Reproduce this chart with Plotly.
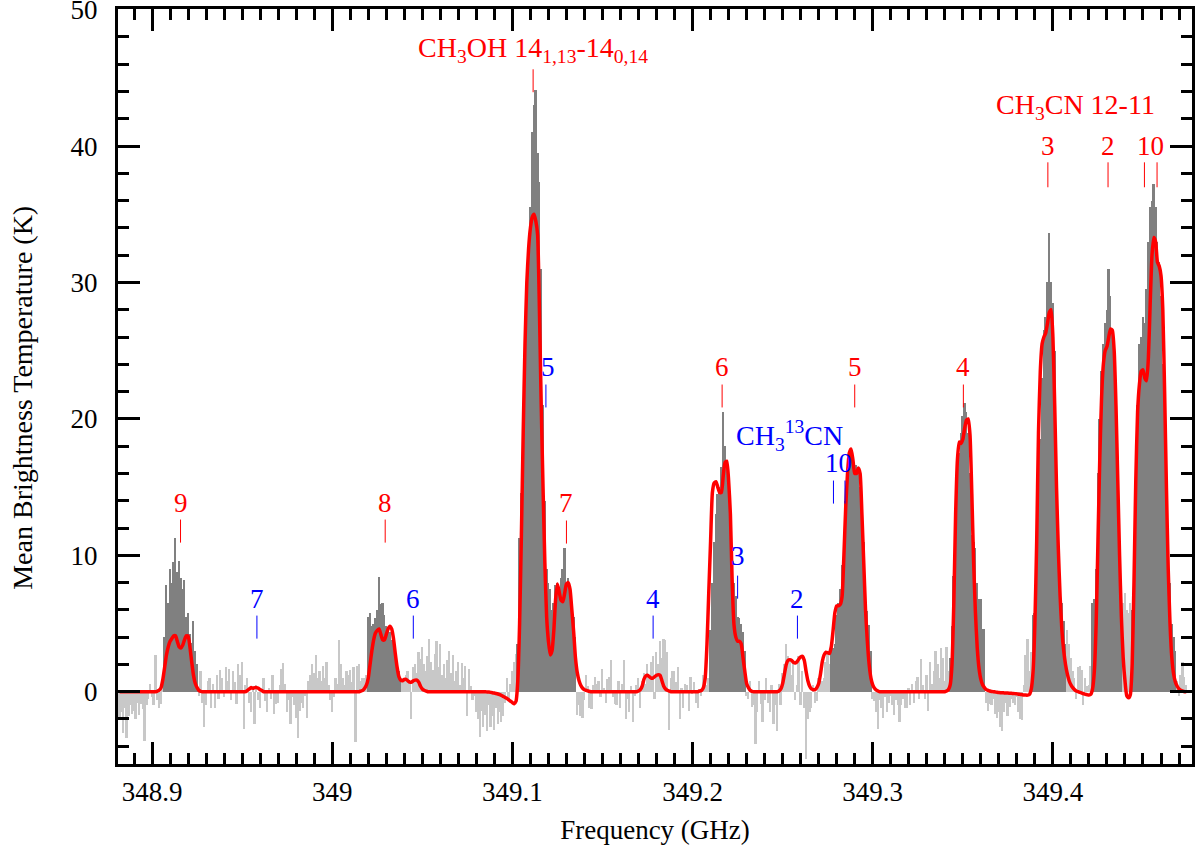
import numpy as np
import plotly.graph_objects as go

# ---------------- data ----------------
CHANNEL_GHZ = 0.001

# observed mean brightness temperature (K), in contiguous channel segments
tb_starts = [348.882, 348.907, 348.926, 349.020, 349.039, 349.103, 349.136,
             349.210, 349.230, 349.277, 349.300, 349.343, 349.363, 349.389,
             349.408, 349.422, 349.439, 349.444, 349.469]
# True = channel belongs to a fitted line (dark grey), False = noise (light grey)
tb_is_line = [False, True, False, True, False, True, False, True, False, True,
              False, True, False, True, False, True, False, True, False]

tb_noise_a = [-2.0, -1.5, -3.0, -1.2, -3.4, -1.8, -1.0, -1.6, -1.4, -2.0,
              -0.8, -1.7, -0.9, -1.3, -3.6, -1.0, -0.5, 0.6, -0.4, -1.0,
              2.7, -0.6, -1.2, -0.9, 0.5]
tb_k9 = [4.0, 7.8, 6.5, 9.0, 8.0, 9.5, 11.3, 8.8, 9.6, 8.3,
         7.5, 8.2, 5.5, 5.8, 4.2, 3.6, 5.2, 3.0, 2.0]
tb_noise_b = [-0.3, 1.5, -0.8, -2.6, -1.0, 0.8, 1.0, -1.2, 0.6, -1.2,
              1.2, -0.5, 1.6, 1.0, -0.4, 1.8, 0.8, 1.7, -0.6, 1.5,
              0.7, -0.9, 2.0, 1.2, 2.2, -2.7, 0.5, 1.0, -0.8, -1.5,
              0.4, -2.4, 0.5, -0.6, -1.2, 0.3, 1.0, -0.7, -1.5, 0.3,
              -0.5, 1.2, -1.6, -0.9, -0.8, 0.5, 1.7, 2.1, 0.6, -1.5,
              -0.6, -2.4, -0.4, -1.0, -1.9, -3.4, -1.4, -0.8, -1.2, -0.3,
              -1.9, 0.8, 1.2, 2.0, 1.4, 2.7, 1.0, 1.5, 0.8, 1.9,
              1.0, 2.2, 0.5, -0.6, -1.5, -0.4, 1.0, 0.6, 3.8, 2.0,
              1.0, 0.5, 1.5, 1.2, 1.6, 0.7, 1.8, -3.7, 1.9, 2.0,
              0.8, 1.0, 1.0, 1.2]
tb_k8 = [5.5, 5.8, 4.8, 5.0, 5.4, 6.0, 8.4, 6.4, 6.5, 5.6,
         4.8, 4.6, 4.4, 3.8, 3.4, 2.6, 2.2, 1.5, 1.0]
tb_noise_c = [1.0, 0.8, 1.2, 1.5, 0.6, -2.0, 1.8, 2.0, 1.4, 2.9,
              2.4, 3.3, 2.0, 1.5, 2.6, 3.9, 2.2, 1.6, 2.8, 3.7,
              1.8, 3.5, 1.2, 2.0, 1.0, 2.3, 3.0, 1.4, 2.7, 0.8,
              1.5, 2.2, 0.5, 2.1, 1.0, 1.9, -1.8, 1.7, 0.4, -0.6,
              -0.3, -1.5, -2.0, -3.3, -1.4, -2.6, -1.7, -2.9, -1.0, -2.6,
              -1.8, -2.8, -1.2, -2.4, -1.5, -2.2, -1.8, -0.8, 1.0, -0.5,
              0.6, 1.5, 2.2, 2.8]
tb_ch3oh = [3.5, 11.3, 14.6, 20.9, 25.0, 28.4, 32.0, 35.5, 41.0, 43.0,
            44.1, 39.5, 37.4, 31.0, 21.0, 14.0, 9.0, 8.0, 7.5, 6.0,
            6.5, 7.8, 8.0, 7.5, 8.3, 9.0, 10.5, 8.0, 8.3, 7.5,
            6.5, 5.5, 4.0]
tb_noise_d = [-1.7, -1.0, -1.8, -1.9, -0.6, 1.2, 0.4, -1.2, -1.3, 0.5,
              1.1, 0.6, 0.8, -0.4, 1.7, 0.3, -0.8, 0.9, 1.1, 2.3,
              -0.4, -0.9, -1.0, 0.8, -1.2, 0.6, 2.3, -2.0, -0.5, -1.5,
              0.4, -2.2, -0.3, 0.5, 1.0, -1.2, 0.8, 1.4, 0.6, 2.0,
              1.1, 2.2, 2.6, -0.5, 2.9, 2.0, 3.7, 2.5, 3.9, 3.8,
              2.9, -2.8, 1.0, 1.5, 1.5, 0.7, 1.8, -2.0, 0.3, -1.2,
              0.6, 0.5, -1.4, 1.1, -0.2, 0.7, -0.8, -1.2, 0.2, -0.3,
              1.2, 0.6, 0.5, 1.0]
tb_k6 = [4.5, 8.0, 11.0, 13.0, 14.5, 15.0, 16.5, 20.5, 18.0, 17.0,
         14.5, 12.0, 10.5, 8.0, 7.0, 5.5, 5.4, 5.0, 4.4, 3.0]
tb_noise_e = [-0.3, -0.5, 0.8, -1.1, -1.0, -3.8, -1.5, 0.8, -0.9, -2.2,
              -0.6, 1.0, -0.8, -1.5, 0.5, -2.4, -1.0, -2.9, 0.6, -1.0,
              1.4, 2.0, 3.5, 2.6, 2.4, 1.2, 2.2, -0.6, 0.5, 2.6,
              -1.0, 1.5, -1.2, -4.9, -2.0, -1.5, -1.2, 0.5, -0.8, -0.7,
              1.0, 1.5, 0.8, 1.0, 2.2, 2.9, 2.0]
tb_k5 = [3.0, 3.2, 3.5, 5.6, 6.5, 7.5, 9.3, 11.0, 14.0, 15.6,
         17.3, 17.6, 17.2, 16.6, 16.6, 16.5, 15.0, 14.2, 11.0, 8.0,
         5.9, 4.9, 3.0]
tb_noise_f = [-0.5, -0.7, -1.5, -2.7, -0.6, -1.2, -1.9, -0.4, -1.5, -0.8,
              -0.3, -1.0, -1.7, -0.6, -1.0, -2.2, -1.0, -0.5, -1.2, -1.2,
              0.3, -1.0, 0.6, -0.8, 0.8, 1.1, -0.5, 2.4, 0.5, -0.5,
              1.2, -1.4, 2.2, 0.6, 1.5, 3.0, 2.0, 1.0, 3.2, 2.5,
              0.8, 3.3, 1.5]
tb_k4 = [2.5, 4.8, 8.5, 13.5, 16.0, 17.5, 19.0, 20.2, 21.2, 20.5,
         19.0, 16.0, 11.5, 11.0, 10.5, 8.0, 6.8, 6.8, 4.6, 4.6]
tb_noise_g = [-0.8, -1.4, -0.9, -1.0, -0.5, -1.6, -1.9, -1.5, -2.6, -2.9,
              -1.5, -0.8, -1.8, -1.1, -0.5, -0.8, -1.0, -0.4, -1.5, -2.0,
              -2.1, 0.5, 2.7, 3.9, 1.5, 2.9]
tb_k3 = [5.6, 5.8, 9.5, 14.0, 18.5, 23.0, 26.5, 27.5, 30.0, 33.6,
         30.0, 28.5, 25.0, 19.0, 12.0, 8.5, 6.5, 5.2, 3.5]
tb_noise_h = [4.5, 3.5, 2.5, 1.5, 1.0, -0.5, 1.8, 1.9, 1.6, -1.0,
              1.0, 0.4, 0.5, 1.9]
tb_k2 = [6.5, 6.8, 9.0, 16.0, 20.0, 23.5, 25.5, 27.0, 28.0, 31.0,
         29.0, 26.5, 24.0, 21.0, 17.0, 11.0, 7.0]
tb_noise_i = [6.5, 7.2, 6.0, 5.8, 6.5]
tb_k10 = [6.0, 6.5, 12.0, 21.0, 25.5, 26.0, 27.5, 27.0, 29.5, 33.0,
          35.5, 36.0, 37.2, 35.5, 33.0, 31.5, 29.0, 24.0, 18.0, 13.5,
          9.5, 8.0, 5.0, 4.0, 3.0]
tb_noise_j = [0.8, -0.3, 1.2, 2.2, 1.1, 0.5]

tb_segments = [tb_noise_a, tb_k9, tb_noise_b, tb_k8, tb_noise_c, tb_ch3oh,
               tb_noise_d, tb_k6, tb_noise_e, tb_k5, tb_noise_f, tb_k4,
               tb_noise_g, tb_k3, tb_noise_h, tb_k2, tb_noise_i, tb_k10,
               tb_noise_j]

# model spectrum (K); zero outside the listed stretches
model_grid_start = 348.882
model_grid_stop = 349.474
model_starts = [348.903, 348.953, 349.016, 349.086, 349.170, 349.204,
                349.248, 349.341]
model_k9 = [0.05, 0.12, 0.3, 0.9, 1.8, 2.7, 3.3, 3.7, 3.9, 4.1,
            4.1, 3.7, 3.3, 3.2, 3.4, 3.8, 4.1, 4.1, 3.3, 2.2,
            1.2, 0.6, 0.3, 0.1, 0.03]
model_b7 = [0.1, 0.2, 0.3, 0.25, 0.3, 0.3, 0.25, 0.15, 0.08]
model_k8 = [0.05, 0.1, 0.25, 0.5, 1.0, 2.0, 3.0, 3.8, 4.3, 4.5,
            4.6, 4.2, 3.8, 3.8, 4.2, 4.6, 4.8, 4.6, 3.9, 2.8,
            1.8, 1.1, 0.85, 0.8, 0.9, 0.9, 0.8, 0.7, 0.7, 0.8,
            0.85, 0.85, 0.7, 0.4, 0.2, 0.1, 0.05]
model_ch3oh = [-0.02, -0.03, -0.05, -0.07, -0.1, -0.13, -0.17, -0.22, -0.28, -0.35,
               -0.42, -0.5, -0.6, -0.7, -0.8, -0.88, -0.7, 0.8, 5.0, 11.5,
               19.0, 25.5, 30.0, 32.5, 34.0, 34.8, 35.0, 34.5, 33.5, 28.0,
               21.0, 15.0, 9.5, 5.5, 3.7, 2.7, 3.0, 4.5, 6.8, 7.9,
               7.3, 6.7, 6.6, 7.2, 7.9, 8.0, 7.5, 6.0, 4.4, 2.5,
               1.4, 0.8, 0.45, 0.25, 0.15, 0.1, 0.05, 0.02]
model_b4 = [0.05, 0.15, 0.4, 0.9, 1.15, 1.2, 1.1, 1.0, 1.0, 1.1,
            1.2, 1.25, 1.2, 0.8, 0.4, 0.2, 0.1, 0.05]
model_k6 = [0.05, 0.1, 0.3, 1.0, 3.5, 7.3, 11.0, 14.6, 15.3, 15.4,
            15.0, 14.6, 14.6, 15.8, 16.8, 16.9, 15.5, 13.0, 8.0, 4.9,
            4.0, 3.7, 3.7, 3.5, 2.5, 1.5, 0.6, 0.3, 0.1, 0.03]
model_b2_k5 = [0.05, 0.2, 0.6, 1.3, 2.0, 2.3, 2.35, 2.3, 2.15, 2.1,
               2.2, 2.4, 2.55, 2.6, 2.3, 1.5, 0.8, 0.4, 0.2, 0.15,
               0.15, 0.3, 0.6, 1.3, 2.2, 2.7, 2.9, 2.85, 2.8, 3.3,
               4.5, 5.8, 6.3, 6.3, 6.4, 7.0, 10.0, 13.5, 16.0, 17.5,
               17.8, 17.0, 16.0, 16.0, 16.4, 16.0, 13.0, 9.5, 6.0, 3.7,
               2.0, 1.0, 0.5, 0.25, 0.12, 0.05]
model_k4_to_k0 = [0.05, 0.15, 0.5, 2.0, 6.5, 13.0, 17.0, 18.3, 18.2, 18.5,
                  19.3, 19.9, 20.0, 18.8, 14.5, 9.5, 5.8, 3.2, 1.7, 0.9,
                  0.5, 0.3, 0.15, 0.1, 0.05, 0.02, 0.0, -0.02, -0.04, -0.06,
                  -0.07, -0.08, -0.09, -0.1, -0.1, -0.11, -0.12, -0.13, -0.14, -0.16,
                  -0.18, -0.2, -0.22, -0.24, -0.25, -0.25, -0.2, 0.2, 1.5, 5.0,
                  11.0, 19.0, 23.5, 25.5, 26.0, 26.3, 27.0, 27.8, 28.0, 26.0,
                  21.0, 15.0, 10.5, 7.0, 4.5, 3.0, 2.0, 1.3, 0.8, 0.5,
                  0.3, 0.15, 0.05, 0.0, -0.05, -0.1, -0.15, -0.2, -0.22, -0.25,
                  -0.2, 0.2, 1.5, 5.0, 11.0, 17.0, 21.5, 24.0, 25.0, 25.3,
                  26.0, 26.6, 26.5, 25.0, 21.0, 15.5, 10.0, 5.5, 2.5, 0.8,
                  -0.3, -0.45, -0.2, 2.0, 8.0, 15.5, 20.5, 22.5, 23.5, 23.6,
                  23.0, 22.8, 24.5, 28.5, 32.0, 33.3, 33.0, 31.5, 31.2, 30.5,
                  28.0, 22.0, 15.0, 9.0, 5.0, 2.5, 1.3, 0.7, 0.4, 0.2,
                  0.1, 0.05, 0.0, 0.0]
model_segments = [model_k9, model_b7, model_k8, model_ch3oh, model_b4,
                  model_k6, model_b2_k5, model_k4_to_k0]

# line identifications: text, frequency (GHz), text height (K), tick bottom/top (K)
red_labels = ["9", "8", "7", "6", "5", "4", "3", "2", "10"]
red_label_freq = [348.9158, 349.0294, 349.1300, 349.2164, 349.2900, 349.3503,
                  349.3972, 349.4306, 349.4544]
red_label_y = [13.87, 13.87, 13.87, 23.84, 23.84, 23.84, 40.0, 40.0, 40.0]
red_tick_freq = [348.9158, 349.0294, 349.1300, 349.2164, 349.2900, 349.3503,
                 349.3972, 349.4306, 349.4508, 349.4578, 349.1115]
red_tick_y0 = [10.93, 10.93, 10.86, 20.84, 20.84, 20.84, 36.98, 36.98, 36.98, 36.98, 43.95]
red_tick_y1 = [12.62, 12.62, 12.55, 22.52, 22.52, 22.52, 38.81, 38.81, 38.81, 38.81, 45.63]

blue_labels = ["7", "6", "5", "4", "3", "2", "10"]
blue_label_freq = [348.9582, 349.0450, 349.1200, 349.1781, 349.2250, 349.2582, 349.2811]
blue_label_y = [6.82, 6.82, 23.84, 6.82, 9.98, 6.82, 16.8]
blue_tick_freq = [348.9582, 349.0450, 349.1186, 349.1781, 349.2250, 349.2582,
                  349.2782, 349.2846]
blue_tick_y0 = [3.89, 3.89, 20.84, 3.89, 6.82, 3.89, 13.79, 13.79]
blue_tick_y1 = [5.58, 5.58, 22.52, 5.58, 8.51, 5.58, 15.48, 15.48]

species_text = ["CH<sub>3</sub>OH 14<sub>1,13</sub>-14<sub>0,14</sub>",
                "CH<sub>3</sub>CN 12-11", "CH<sub>3</sub><sup>13</sup>CN"]
species_freq = [349.1114, 349.4125, 349.2539]
species_y = [47.05, 42.9, 18.8]
species_color = ["#ff0000", "#ff0000", "#0000ff"]

x_tickvals = [348.9, 349.0, 349.1, 349.2, 349.3, 349.4]
x_ticktext = ["348.9", "349", "349.1", "349.2", "349.3", "349.4"]
y_tickvals = [0, 10, 20, 30, 40, 50]

x_title = "Frequency (GHz)"
y_title = "Mean Brightness Temperature (K)"

# ---------------- build ----------------
freqs, temps, colors = [], [], []
for start, vals, is_line in zip(tb_starts, tb_segments, tb_is_line):
    f = np.round(start + CHANNEL_GHZ * np.arange(len(vals)), 4)
    freqs.extend(f.tolist())
    temps.extend(vals)
    colors.extend(["#808080" if is_line else "#c8c8c8"] * len(vals))

n_grid = int(round((model_grid_stop - model_grid_start) / CHANNEL_GHZ)) + 1
grid = np.round(model_grid_start + CHANNEL_GHZ * np.arange(n_grid), 4)
model = np.zeros(n_grid)
for start, vals in zip(model_starts, model_segments):
    i0 = int(round((start - model_grid_start) / CHANNEL_GHZ))
    model[i0:i0 + len(vals)] = vals

FONT = "Liberation Serif"
FS = 27
FA = 27

fig = go.Figure()
fig.add_trace(go.Bar(x=freqs, y=temps, width=CHANNEL_GHZ,
                     marker=dict(color=colors, line=dict(width=0)),
                     hoverinfo="skip", showlegend=False))
fig.add_trace(go.Scatter(x=grid, y=model, mode="lines",
                         line=dict(color="#ff0000", width=3.5, shape="spline", smoothing=0.5),
                         hoverinfo="skip", showlegend=False))

annotations = []
shapes = []
for t, fx, fy in zip(red_labels, red_label_freq, red_label_y):
    annotations.append(dict(x=fx, y=fy, text=t, showarrow=False, xanchor="center",
                            yanchor="middle", font=dict(family=FONT, size=FA, color="#ff0000")))
for fx, y0, y1 in zip(red_tick_freq, red_tick_y0, red_tick_y1):
    shapes.append(dict(type="line", x0=fx, x1=fx, y0=y0, y1=y1, xref="x", yref="y",
                       line=dict(color="#ff0000", width=1)))
for t, fx, fy in zip(blue_labels, blue_label_freq, blue_label_y):
    annotations.append(dict(x=fx, y=fy, text=t, showarrow=False, xanchor="center",
                            yanchor="middle", font=dict(family=FONT, size=FA, color="#0000ff")))
for fx, y0, y1 in zip(blue_tick_freq, blue_tick_y0, blue_tick_y1):
    shapes.append(dict(type="line", x0=fx, x1=fx, y0=y0, y1=y1, xref="x", yref="y",
                       line=dict(color="#0000ff", width=1)))
for t, fx, fy, c in zip(species_text, species_freq, species_y, species_color):
    annotations.append(dict(x=fx, y=fy, text=t, showarrow=False, xanchor="center",
                            yanchor="middle", font=dict(family=FONT, size=28, color=c)))

# y-axis title (placed as a rotated annotation to match the reference's position)
annotations.append(dict(x=-0.0885, y=0.485, xref="paper", yref="paper", text=y_title,
                        textangle=-90, showarrow=False, xanchor="center", yanchor="middle",
                        font=dict(family=FONT, size=28, color="black")))

axis_common = dict(showline=True, linewidth=3, linecolor="black", mirror="ticks",
                   ticks="inside", ticklen=22, tickwidth=3, tickcolor="black",
                   showgrid=False, zeroline=False, automargin=False,
                   ticklabeloverflow="allow",
                   tickfont=dict(family=FONT, size=FS, color="black"))

fig.update_layout(
    width=1196, height=850,
    margin=dict(l=118, r=4, t=9, b=86),
    paper_bgcolor="white", plot_bgcolor="white",
    bargap=0, barmode="overlay",
    annotations=annotations, shapes=shapes,
    font=dict(family=FONT, size=FS, color="black"),
    xaxis=dict(range=[348.8811, 349.4772], tickvals=x_tickvals, ticktext=x_ticktext,
               ticklabelstandoff=2,
               minor=dict(dtick=0.01, tick0=348.9, ticks="inside", ticklen=11,
                          tickwidth=3, tickcolor="black", showgrid=False),
               title=dict(text=x_title, font=dict(family=FONT, size=FS), standoff=14),
               **axis_common),
    yaxis=dict(range=[-5.3, 50.05], tickvals=y_tickvals,
               ticklabelstandoff=12,
               minor=dict(dtick=2, tick0=0, ticks="inside", ticklen=11,
                          tickwidth=3, tickcolor="black", showgrid=False),
               **axis_common),
)

# remove the browser's default 8px page margin so the figure sits at (0, 0)
fig.write_html("out.html", config={"displayModeBar": False},
               post_script="document.body.style.margin='0';")
